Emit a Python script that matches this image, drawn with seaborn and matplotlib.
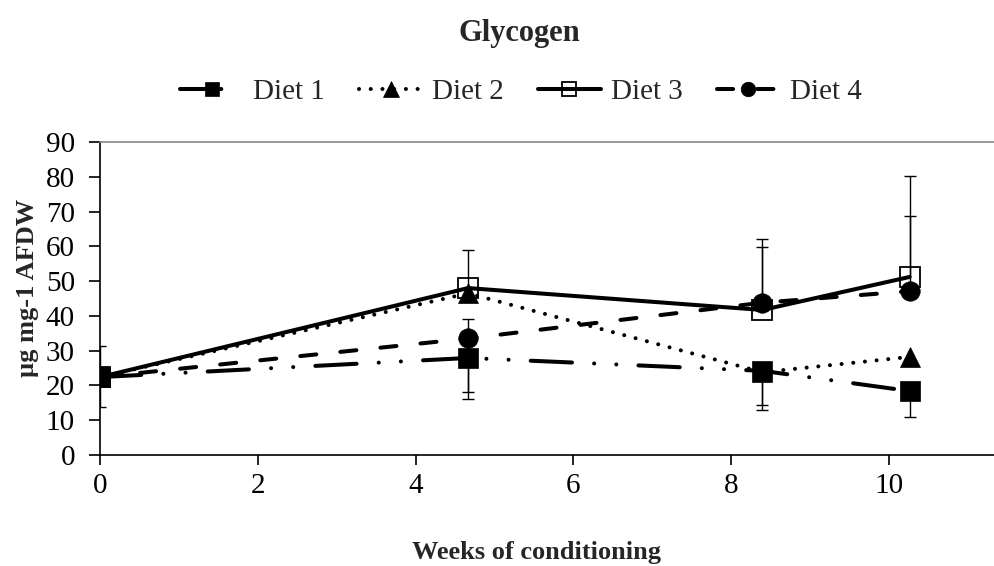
import numpy as np
import pandas as pd
import matplotlib
matplotlib.use("Agg")
import matplotlib.pyplot as plt
import seaborn as sns

# --- datos ---
weeks = [0, 5, 9, 11]
diet1 = [22.4, 27.9, 24.2, 18.4]
diet2 = [22.4, 46.5, 23.8, 28.2]
diet3 = [22.4, 48.0, 41.7, 51.2]
diet4 = [22.4, 33.5, 43.8, 47.1]

# barras de error (inferior, superior); nan = no se ve
err1_lo = [8.5, 11.9, 9.8, 7.4]
err1_hi = [9.0, np.nan, np.nan, np.nan]
err2_lo = [np.nan, np.nan, 10.9, np.nan]
err2_hi = [np.nan, np.nan, np.nan, np.nan]
err3_lo = [np.nan, np.nan, np.nan, np.nan]
err3_hi = [np.nan, 11.0, 18.2, 29.0]
err4_lo = [np.nan, 15.5, np.nan, np.nan]
err4_hi = [np.nan, 5.5, 18.2, 21.7]

labels = ["Diet 1", "Diet 2", "Diet 3", "Diet 4"]
tick_weeks = [0, 2, 4, 6, 8, 10]

df = pd.DataFrame({
    "week": weeks * 4,
    "diet": np.repeat(labels, len(weeks)),
    "value": diet1 + diet2 + diet3 + diet4,
})

# --- estilos ---
sns.set_theme(style="white")
plt.rcParams["font.family"] = ["Liberation Serif", "DejaVu Serif"]
FS_TICK = 21
FS_LEG = 21
FS_TITLE = 22
FS_LAB = 19
LW = 2.9

styles = {
    "Diet 1": dict(ls=(0, (10.25, 5.5, 0.01, 5.5, 0.01, 5.5)), marker="s", mfc="black"),
    "Diet 2": dict(ls=(0, (0.01, 2.9)), marker="^", mfc="black"),
    "Diet 3": dict(ls="-", marker="s", mfc="none"),
    "Diet 4": dict(ls=(0, (4.0, 6.0)), marker="o", mfc="black"),
}
errs = {
    "Diet 1": (err1_lo, err1_hi),
    "Diet 2": (err2_lo, err2_hi),
    "Diet 3": (err3_lo, err3_hi),
    "Diet 4": (err4_lo, err4_hi),
}
values = {"Diet 1": diet1, "Diet 2": diet2, "Diet 3": diet3, "Diet 4": diet4}

fig = plt.figure(figsize=(9.95, 5.66), dpi=100)
W, H = 995, 566
ax = fig.add_axes([100 / W, (H - 455) / H, 900 / W, (455 - 142) / H])

handles = []
for d in labels:
    st = styles[d]
    sub = df[df["diet"] == d]
    y = np.array(values[d])
    lo = np.array(errs[d][0])
    hi = np.array(errs[d][1])
    # linea vertical de la barra de error
    ax.errorbar(weeks, y, yerr=[np.nan_to_num(lo), np.nan_to_num(hi)], fmt="none",
                ecolor="black", elinewidth=1.0, capsize=0, zorder=2)
    # topes solo donde hay barra
    caps_y = np.concatenate([y - lo, y + hi])
    caps_x = np.concatenate([weeks, weeks])
    ok = ~np.isnan(caps_y)
    ax.plot(caps_x[ok], caps_y[ok], ls="none", marker="_", markersize=8.5,
            markeredgewidth=1.0, color="black", zorder=2)
    sns.lineplot(data=sub, x="week", y="value", ax=ax, color="black",
                 linewidth=LW, linestyle=st["ls"], dash_capstyle="round",
                 marker=st["marker"], markersize=14 if st["marker"] != "^" else 15,
                 markerfacecolor=st["mfc"], markeredgecolor="black",
                 markeredgewidth=1.3 if st["mfc"] == "none" else 0.5,
                 legend=False, zorder=3)
    handles.append(ax.get_lines()[-1])

# eje x de los datos (escala propia)
ax.set_xlim(0, 900 / 73.6)
ax.set_ylim(0, 90)
ax.set_xticks([])
ax.set_yticks(range(0, 91, 10))
ax.tick_params(axis="y", which="both", direction="out", length=8, width=1.2,
               labelsize=FS_TICK, pad=10, left=True, colors="black")
ax.set_xlabel("")
ax.set_ylabel("")
ax.spines["right"].set_visible(False)
ax.spines["top"].set_color("#888888")
ax.spines["top"].set_linewidth(1.2)
ax.spines["left"].set_color("black")
ax.spines["bottom"].set_color("black")
ax.spines["left"].set_linewidth(1.2)
ax.spines["bottom"].set_linewidth(1.2)

# eje x de las marcas (escala del grafico original)
ax2 = ax.twiny()
ax2.set_xlim(0, 900 / 78.9)
ax2.set_xticks(tick_weeks)
ax2.xaxis.set_ticks_position("bottom")
ax2.xaxis.set_label_position("bottom")
ax2.tick_params(axis="x", direction="out", length=7, width=1.2, labelsize=FS_TICK,
                pad=6, bottom=True, top=False, colors="black")
for s in ax2.spines.values():
    s.set_visible(False)

fig.text(519 / W, 1 - 33 / H, "Glycogen", ha="center", va="center",
         fontsize=FS_TITLE, fontweight="bold")
fig.text(537 / W, 1 - 553 / H, "Weeks of conditioning", ha="center", va="center",
         fontsize=FS_LAB, fontweight="bold")
fig.text(28 / W, 1 - 288 / H, "µg mg-1 AFDW", ha="center", va="center",
         rotation=90, fontsize=FS_LAB, fontweight="bold")

fig.legend(handles, labels, loc="center", bbox_to_anchor=(521 / W, 1 - 92 / H),
           ncol=4, frameon=False, fontsize=FS_LEG, handlelength=2.15,
           handletextpad=0.35, columnspacing=1.17, markerscale=0.75)

fig.savefig("out.png", dpi=100)
